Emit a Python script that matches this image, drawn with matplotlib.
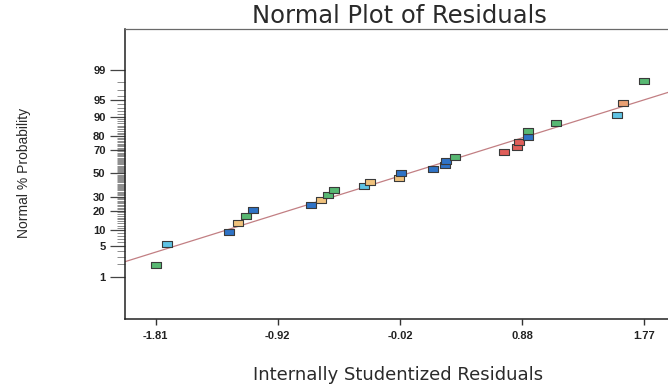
import math
import numpy as np
import matplotlib
matplotlib.use("Agg")
import matplotlib.pyplot as plt
from matplotlib.path import Path

# ---------------- data ----------------
residuals = [-1.81, -1.73, -1.27, -1.21, -1.15, -1.10, -0.67, -0.60, -0.55, -0.50,
             -0.285, -0.24, -0.025, -0.01, 0.225, 0.31, 0.315, 0.38, 0.745, 0.835,
             0.85, 0.92, 0.92, 1.12, 1.57, 1.615, 1.77]
normal_pct = [1.9, 5.6, 9.3, 13.0, 16.7, 20.4, 24.1, 27.8, 31.5, 35.2, 38.9, 42.6,
              46.3, 50.0, 53.7, 57.4, 61.1, 64.8, 68.5, 72.2, 75.9, 79.6, 83.3,
              87.0, 90.7, 94.4, 98.1]
point_groups = ["green", "lightblue", "blue", "tan", "green", "blue", "blue", "tan",
                "green", "green", "lightblue", "tan", "tan", "blue", "blue", "blue",
                "blue", "green", "red", "red", "red", "blue", "green", "green",
                "lightblue", "salmon", "green"]
line_x = [-2.04, 2.0]
line_pct = [2.3, 97.0]
x_tick_values = [-1.81, -0.915, -0.02, 0.875, 1.77]
x_tick_labels = ["-1.81", "-0.92", "-0.02", "0.88", "1.77"]
y_tick_values = [1, 5, 10, 20, 30, 50, 70, 80, 90, 95, 99]
y_tick_labels = ["1", "5", "10", "20", "30", "50", "70", "80", "90", "95", "99"]

palette = {"green": "#58b873", "lightblue": "#5fc3e4", "blue": "#2f73c6",
           "tan": "#f0c27c", "red": "#e05f5a", "salmon": "#e9a073"}


# ---------------- normal probability scale ----------------
def _ppf(q):
    q = np.atleast_1d(np.asarray(q, dtype=float))
    shape = q.shape
    q = np.clip(q.ravel(), 1e-12, 1 - 1e-12)
    a = [-3.969683028665376e+01, 2.209460984245205e+02, -2.759285104469687e+02,
         1.383577518672690e+02, -3.066479806614716e+01, 2.506628277459239e+00]
    b = [-5.447609879822406e+01, 1.615858368580409e+02, -1.556989798598866e+02,
         6.680131188771972e+01, -1.328068155288572e+01]
    c = [-7.784894002430293e-03, -3.223964580411365e-01, -2.400758277161838e+00,
         -2.549732539343734e+00, 4.374664141464968e+00, 2.938163982698783e+00]
    d = [7.784695709041462e-03, 3.224671290700398e-01, 2.445134137142996e+00,
         3.754408661907416e+00]
    plow = 0.02425
    out = np.empty_like(q)
    lo = q < plow
    hi = q > 1 - plow
    mid = ~(lo | hi)
    ql = np.sqrt(-2 * np.log(q[lo]))
    out[lo] = (((((c[0]*ql+c[1])*ql+c[2])*ql+c[3])*ql+c[4])*ql+c[5]) / \
              ((((d[0]*ql+d[1])*ql+d[2])*ql+d[3])*ql+1)
    qh = np.sqrt(-2 * np.log(1 - q[hi]))
    out[hi] = -(((((c[0]*qh+c[1])*qh+c[2])*qh+c[3])*qh+c[4])*qh+c[5]) / \
               ((((d[0]*qh+d[1])*qh+d[2])*qh+d[3])*qh+1)
    qm = q[mid] - 0.5
    r = qm * qm
    out[mid] = (((((a[0]*r+a[1])*r+a[2])*r+a[3])*r+a[4])*r+a[5])*qm / \
               (((((b[0]*r+b[1])*r+b[2])*r+b[3])*r+b[4])*r+1)
    return out.reshape(shape)


_verf = np.vectorize(math.erf, otypes=[float])


def fwd(p):
    return _ppf(np.asarray(p, dtype=float) / 100.0)


def inv(z):
    z = np.atleast_1d(np.asarray(z, dtype=float))
    return 100.0 * 0.5 * (1.0 + _verf(z / math.sqrt(2.0)))


# ---------------- figure ----------------
W, H = 668, 388
fig = plt.figure(figsize=(W / 100, H / 100), dpi=100)
fig.patch.set_facecolor("white")

left_px, right_px, top_px, bottom_px = 125.0, 675.0, 29.3, 319.3
ax = fig.add_axes([left_px / W, 1 - bottom_px / H,
                   (right_px - left_px) / W, (bottom_px - top_px) / H])
ax.set_yscale("function", functions=(fwd, inv))
ax.set_xlim(-2.035, 1.995)
ax.set_ylim(float(inv(-3.29)[0]), float(inv(3.25)[0]))

# fitted line
ax.plot(line_x, line_pct, color="#c27f83", lw=0.9, zorder=2, clip_on=True)

# rectangle marker (wider than tall)
rect = Path([(-0.82, -0.5), (0.82, -0.5), (0.82, 0.5), (-0.82, 0.5), (-0.82, -0.5)],
            [Path.MOVETO, Path.LINETO, Path.LINETO, Path.LINETO, Path.CLOSEPOLY])
for xv, pv, g in zip(residuals, normal_pct, point_groups):
    ax.plot([xv], [pv], linestyle="none", marker=rect, markersize=7.2,
            markerfacecolor=palette[g], markeredgecolor="#3a3a3a",
            markeredgewidth=0.8, zorder=3)

# spines
ax.spines["right"].set_visible(False)
ax.spines["top"].set_color("#6a6a6a")
ax.spines["top"].set_linewidth(0.9)
ax.spines["left"].set_color("#222222")
ax.spines["left"].set_linewidth(1.1)
ax.spines["bottom"].set_color("#222222")
ax.spines["bottom"].set_linewidth(1.1)

# ticks
ax.set_xticks(x_tick_values)
ax.set_xticklabels(x_tick_labels)
ax.set_yticks(y_tick_values)
ax.set_yticklabels(y_tick_labels)
minor_pcts = [p for p in range(2, 99) if p not in y_tick_values]
ax.set_yticks(minor_pcts, minor=True)
ax.xaxis.set_minor_locator(matplotlib.ticker.NullLocator())

ax.tick_params(axis="x", which="major", direction="out", length=4.5, width=1.0,
               color="#333333", pad=4, labelsize=8, labelcolor="#222222",
               top=False)
ax.tick_params(axis="y", which="major", direction="out", length=10.5, width=0.9,
               color="#444444", pad=3.5, labelsize=8, labelcolor="#222222",
               right=False)
ax.tick_params(axis="y", which="minor", direction="out", length=5.5, width=0.6,
               color="#7a7a7a", right=False)
for lab in ax.get_xticklabels() + ax.get_yticklabels():
    lab.set_fontweight("bold")
    lab.set_family(["Liberation Sans", "DejaVu Sans"])

# texts
fig.text(399 / W, 1 - 22.7 / H, "Normal Plot of Residuals", ha="center",
         va="baseline", fontsize=17.5, color="#2a2a2a",
         family=["DejaVu Sans"])
fig.text(398 / W, 1 - 380 / H, "Internally Studentized Residuals", ha="center",
         va="baseline", fontsize=13, color="#2a2a2a",
         family=["DejaVu Sans"])
fig.text(24 / W, 1 - 173 / H, "Normal % Probability", ha="center", va="center",
         rotation=90, fontsize=10, color="#2a2a2a",
         family=["Liberation Sans", "DejaVu Sans"])

fig.savefig("out.png", dpi=100, facecolor="white")
